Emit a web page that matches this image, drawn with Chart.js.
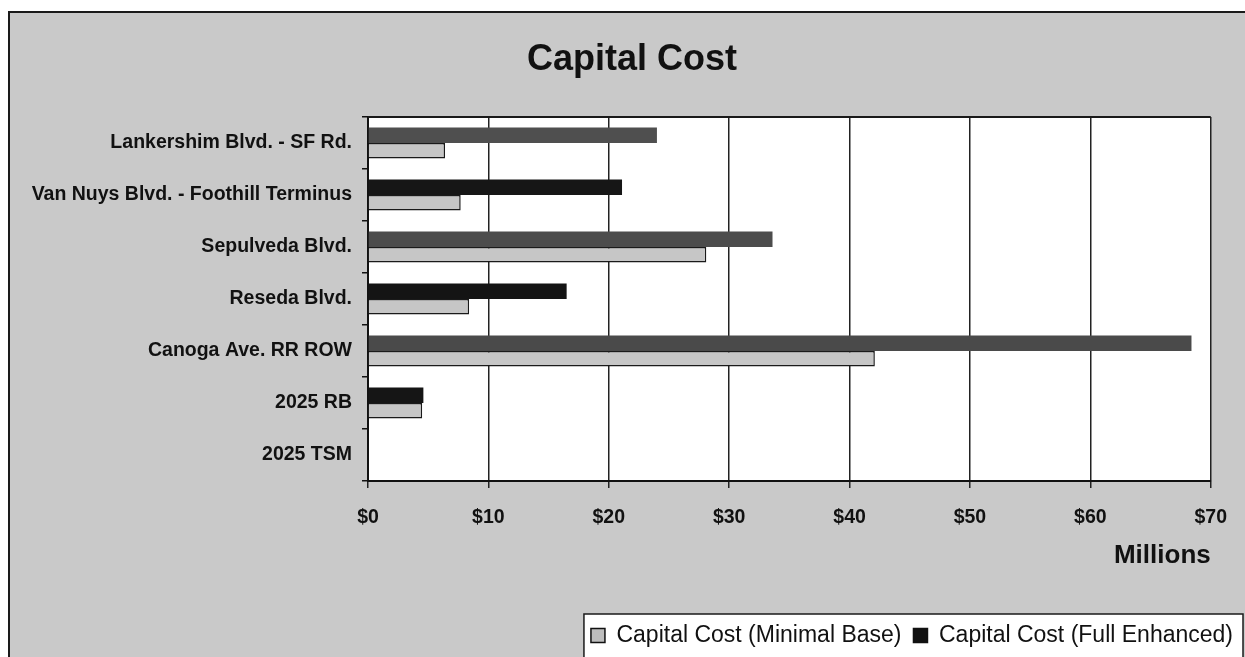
<!DOCTYPE html>
<html>
<head>
<meta charset="utf-8">
<title>Capital Cost</title>
<script src="https://cdn.jsdelivr.net/npm/chart.js@4.4.1/dist/chart.umd.min.js"></script>
<style>
  html, body { margin: 0; padding: 0; background: #ffffff; }
  #wrap { width: 1245px; height: 657px; position: relative; }
  canvas { display: block; }
</style>
</head>
<body>
<div id="wrap"><canvas id="chart" width="1245" height="657"></canvas></div>
<script>
// ---- data ----
const chartTitle = 'Capital Cost';
const categories = [
  'Lankershim Blvd. - SF Rd.',
  'Van Nuys Blvd. - Foothill Terminus',
  'Sepulveda Blvd.',
  'Reseda Blvd.',
  'Canoga Ave. RR ROW',
  '2025 RB',
  '2025 TSM'
];
const minimalBase  = [6.4, 7.7, 28.1, 8.4, 42.1, 4.5, 0];
const fullEnhanced = [24.0, 21.1, 33.6, 16.5, 68.4, 4.6, 0];
const xTickValues = [0, 10, 20, 30, 40, 50, 60, 70];
const seriesNames = ['Capital Cost (Minimal Base)', 'Capital Cost (Full Enhanced)'];
const axisUnit = 'Millions';

// ---- styling ----
const FONT = "'Liberation Sans', Arial, Helvetica, sans-serif";
const W = 1245, H = 657;
const PLOT_LEFT = 368, PLOT_RIGHT = 1214, PLOT_TOP = 117, PLOT_BOTTOM = 481;
const PAGE_GRAY = '#c9c9c9';
const INK = '#111111';
const fullColors = ['#4f4f4f', '#161616', '#4c4c4c', '#141414', '#4a4a4a', '#151515', '#151515'];

// page background, plot panel and frame
const backdrop = {
  id: 'backdrop',
  beforeDraw(chart) {
    const ctx = chart.ctx;
    const a = chart.chartArea;
    ctx.save();
    ctx.fillStyle = '#ffffff';
    ctx.fillRect(0, 0, W, H);
    ctx.fillStyle = PAGE_GRAY;
    ctx.fillRect(9, 12, W - 9, H - 12);
    // outer frame (top and left)
    ctx.strokeStyle = '#1a1a1a';
    ctx.lineWidth = 2;
    ctx.beginPath();
    ctx.moveTo(9, H);
    ctx.lineTo(9, 12);
    ctx.lineTo(W, 12);
    ctx.stroke();
    // white plot panel
    ctx.fillStyle = '#ffffff';
    ctx.fillRect(a.left, a.top, a.right - a.left, a.bottom - a.top);
    // legend panel
    const lg = chart.legend;
    if (lg && lg.legendHitBoxes && lg.legendHitBoxes.length) {
      const hb = lg.legendHitBoxes;
      let l = Infinity, r = -Infinity;
      hb.forEach(b => { l = Math.min(l, b.left); r = Math.max(r, b.left + b.width); });
      const x0 = l - 7, x1 = r + 10, y0 = lg.top + 2;
      ctx.fillStyle = '#ffffff';
      ctx.fillRect(x0, y0, x1 - x0, H - y0 + 5);
      ctx.strokeStyle = '#1a1a1a';
      ctx.lineWidth = 1.5;
      ctx.strokeRect(x0, y0, x1 - x0, H - y0 + 5);
    }
    ctx.restore();
  },
  beforeDatasetsDraw(chart) {
    // top edge of the plot panel
    const ctx = chart.ctx;
    const a = chart.chartArea;
    ctx.save();
    ctx.strokeStyle = '#1a1a1a';
    ctx.lineWidth = 2;
    ctx.beginPath();
    ctx.moveTo(a.left, a.top);
    ctx.lineTo(a.right, a.top);
    ctx.stroke();
    ctx.restore();
  },
  afterDraw(chart) {
    const ctx = chart.ctx;
    ctx.save();
    ctx.fillStyle = INK;
    ctx.font = "bold 36px " + FONT;
    ctx.textAlign = 'center';
    ctx.textBaseline = 'middle';
    ctx.fillText(chartTitle, 632, 60);
    ctx.restore();
  }
};

const ctx = document.getElementById('chart').getContext('2d');
new Chart(ctx, {
  type: 'bar',
  data: {
    labels: categories,
    datasets: [
      {
        label: seriesNames[1],
        data: fullEnhanced,
        backgroundColor: fullColors,
        borderWidth: 0,
        categoryPercentage: 0.6,
        barPercentage: 1.0,
        legendFill: '#111111'
      },
      {
        label: seriesNames[0],
        data: minimalBase,
        backgroundColor: '#c6c6c6',
        borderColor: '#1a1a1a',
        borderWidth: 1.5,
        categoryPercentage: 0.6,
        barPercentage: 1.0,
        legendFill: '#bdbdbd'
      }
    ]
  },
  options: {
    indexAxis: 'y',
    responsive: false,
    animation: false,
    devicePixelRatio: 1,
    layout: { padding: { left: 0, right: 0, top: PLOT_TOP, bottom: 0 } },
    scales: {
      y: {
        type: 'category',
        position: 'left',
        offset: true,
        grid: { display: true, drawOnChartArea: false, drawTicks: true, tickLength: 6, color: INK, lineWidth: 1.5, offset: true },
        border: { display: true, color: INK, width: 2 },
        ticks: { color: INK, font: { family: FONT, size: 19.5, weight: 'bold' }, padding: 10, autoSkip: false },
        afterFit(s) { s.width = PLOT_LEFT; }
      },
      x: {
        type: 'linear',
        position: 'bottom',
        min: xTickValues[0],
        max: xTickValues[xTickValues.length - 1],
        afterBuildTicks(s) { s.ticks = xTickValues.map(v => ({ value: v })); },
        ticks: {
          color: INK,
          font: { family: FONT, size: 19.5, weight: 'bold' },
          padding: 18,
          maxRotation: 0,
          callback: v => '$' + v
        },
        grid: { color: '#222222', lineWidth: 1.5, tickLength: 7, drawTicks: true },
        border: { display: true, color: INK, width: 2 },
        title: {
          display: true,
          text: axisUnit,
          align: 'end',
          color: INK,
          font: { family: FONT, size: 26, weight: 'bold' },
          padding: { top: 0, bottom: 41 }
        },
        afterFit(s) {
          const lh = (s.chart.legend && s.chart.legend.height) ? s.chart.legend.height : 45;
          s.height = H - lh - PLOT_BOTTOM;
        }
      },
      edge: {
        type: 'linear',
        position: 'right',
        display: true,
        grid: { display: false, drawTicks: false },
        ticks: { display: false },
        border: { display: false },
        afterFit(s) { s.width = W - PLOT_RIGHT; }
      }
    },
    plugins: {
      title: { display: false },
      tooltip: { enabled: false },
      legend: {
        display: true,
        position: 'bottom',
        align: 'end',
        reverse: true,
        labels: {
          color: INK,
          font: { family: FONT, size: 23 },
          boxWidth: 14,
          boxHeight: 14,
          padding: 12,
          generateLabels(chart) {
            const items = Chart.defaults.plugins.legend.labels.generateLabels(chart);
            items.forEach(it => {
              const ds = chart.data.datasets[it.datasetIndex];
              it.fillStyle = ds.legendFill;
              it.strokeStyle = '#111111';
              it.lineWidth = 1.5;
            });
            return items;
          }
        }
      }
    }
  },
  plugins: [backdrop]
});
</script>
</body>
</html>
